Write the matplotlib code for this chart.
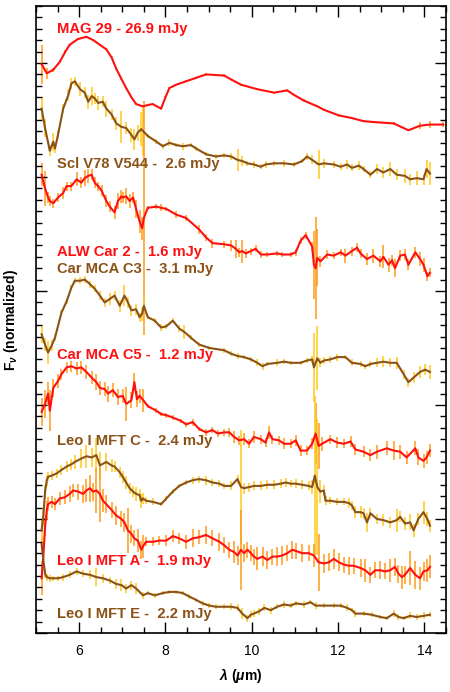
import numpy as np
import matplotlib
matplotlib.use("Agg")
from matplotlib import pyplot as plt
from matplotlib.ticker import MultipleLocator

plt.rcParams['font.family'] = ['Liberation Sans', 'DejaVu Sans']
plt.rcParams['mathtext.fontset'] = 'custom'
plt.rcParams['mathtext.rm'] = 'Liberation Sans:bold'
plt.rcParams['mathtext.it'] = 'Liberation Sans:italic:bold'
plt.rcParams['mathtext.bf'] = 'Liberation Sans:bold'

RED = '#ff1010'
BROWN = '#8a5217'
ORANGE = '#ff9a1a'
GOLD = '#ffc81a'

# columns: wavelength (um), normalized flux + offset, error
mag29 = np.array([
    [5.13, 4.99, 0.17], [5.25, 4.91, 0.05], [5.40, 4.94, 0.02], [5.55, 5.01, 0.01],
    [5.68, 5.10, 0.01], [5.78, 5.16, 0.01], [5.97, 5.21, 0.01], [6.17, 5.23, 0.01],
    [6.33, 5.20, 0.01], [6.48, 5.16, 0.01], [6.63, 5.12, 0.01], [6.75, 5.05, 0.01],
    [6.86, 4.95, 0.01], [6.98, 4.86, 0.01], [7.09, 4.78, 0.01], [7.21, 4.70, 0.01],
    [7.32, 4.64, 0.01], [7.47, 4.62, 0.01], [7.70, 4.64, 0.01], [7.90, 4.60, 0.01],
    [8.00, 4.70, 0.01], [8.09, 4.78, 0.01], [8.25, 4.81, 0.01], [8.48, 4.84, 0.01],
    [8.94, 4.90, 0.01], [9.36, 4.89, 0.01], [9.55, 4.85, 0.01], [9.75, 4.81, 0.01],
    [10.13, 4.77, 0.01], [10.52, 4.74, 0.01], [10.82, 4.76, 0.01], [10.98, 4.72, 0.01],
    [11.21, 4.67, 0.01], [11.52, 4.62, 0.01], [11.67, 4.59, 0.01], [12.02, 4.54, 0.01],
    [12.29, 4.52, 0.01], [12.59, 4.49, 0.01], [12.90, 4.48, 0.01], [13.29, 4.47, 0.01],
    [13.63, 4.41, 0.01], [13.90, 4.45, 0.03], [14.13, 4.46, 0.03], [14.44, 4.46, 0.02],
])

scl_v78 = np.array([
    [5.13, 4.60, 0.10], [5.21, 4.43, 0.08], [5.32, 4.23, 0.05], [5.40, 4.31, 0.08],
    [5.44, 4.25, 0.04], [5.51, 4.37, 0.04], [5.63, 4.60, 0.04], [5.75, 4.72, 0.05],
    [5.82, 4.82, 0.05], [5.90, 4.84, 0.04], [6.02, 4.77, 0.06], [6.13, 4.74, 0.05],
    [6.21, 4.66, 0.06], [6.29, 4.71, 0.08], [6.36, 4.69, 0.05], [6.44, 4.65, 0.06],
    [6.55, 4.66, 0.05], [6.63, 4.60, 0.07], [6.75, 4.55, 0.05], [6.86, 4.47, 0.06],
    [6.98, 4.44, 0.14], [7.09, 4.43, 0.05], [7.21, 4.37, 0.06], [7.28, 4.33, 0.09],
    [7.36, 4.39, 0.07], [7.44, 4.42, 0.15], [7.49, 4.40, 0.22], [7.59, 4.36, 0.02],
    [7.79, 4.31, 0.02], [7.94, 4.27, 0.02], [8.09, 4.30, 0.03], [8.25, 4.28, 0.02],
    [8.40, 4.27, 0.03], [8.59, 4.28, 0.02], [8.71, 4.25, 0.02], [8.94, 4.20, 0.02],
    [9.17, 4.18, 0.02], [9.36, 4.19, 0.02], [9.52, 4.18, 0.03], [9.67, 4.15, 0.10],
    [9.78, 4.14, 0.04], [9.90, 4.12, 0.02], [10.05, 4.11, 0.03], [10.21, 4.09, 0.02],
    [10.32, 4.11, 0.03], [10.52, 4.12, 0.02], [10.75, 4.12, 0.03], [10.98, 4.11, 0.02],
    [11.17, 4.14, 0.02], [11.28, 4.18, 0.03], [11.40, 4.15, 0.04], [11.55, 4.11, 0.13],
    [11.67, 4.12, 0.04], [11.90, 4.11, 0.03], [12.06, 4.09, 0.03], [12.21, 4.11, 0.04],
    [12.32, 4.08, 0.03], [12.48, 4.10, 0.04], [12.59, 4.07, 0.03], [12.75, 4.02, 0.03],
    [12.90, 4.07, 0.04], [13.05, 4.04, 0.05], [13.21, 4.07, 0.06], [13.36, 4.02, 0.05],
    [13.55, 4.01, 0.06], [13.67, 3.98, 0.05], [13.82, 3.99, 0.06], [13.98, 3.98, 0.05],
    [14.05, 4.07, 0.08], [14.13, 4.03, 0.10],
])

alw_car2 = np.array([
    [5.13, 4.02, 0.10], [5.21, 3.90, 0.15], [5.28, 3.82, 0.05], [5.32, 3.79, 0.04],
    [5.40, 3.77, 0.04], [5.51, 3.82, 0.04], [5.63, 3.86, 0.05], [5.71, 3.92, 0.04],
    [5.82, 3.92, 0.04], [5.94, 3.98, 0.06], [6.05, 3.95, 0.05], [6.13, 3.99, 0.07],
    [6.21, 4.01, 0.06], [6.29, 4.02, 0.05], [6.36, 3.95, 0.05], [6.44, 3.92, 0.04],
    [6.52, 3.88, 0.05], [6.63, 3.79, 0.05], [6.71, 3.74, 0.05], [6.82, 3.69, 0.06],
    [6.90, 3.79, 0.07], [6.98, 3.83, 0.06], [7.01, 3.82, 0.05], [7.09, 3.83, 0.07],
    [7.17, 3.79, 0.06], [7.25, 3.82, 0.05], [7.32, 3.72, 0.08], [7.40, 3.61, 0.10],
    [7.46, 3.55, 0.10], [7.50, 3.64, 1.03], [7.59, 3.73, 0.02], [7.79, 3.74, 0.02],
    [7.90, 3.73, 0.03], [8.02, 3.72, 0.02], [8.25, 3.67, 0.03], [8.48, 3.64, 0.03],
    [8.78, 3.54, 0.04], [8.94, 3.47, 0.03], [9.09, 3.42, 0.04], [9.36, 3.41, 0.03],
    [9.52, 3.40, 0.05], [9.63, 3.37, 0.08], [9.71, 3.34, 0.04], [9.78, 3.35, 0.10],
    [9.86, 3.33, 0.04], [9.98, 3.35, 0.03], [10.09, 3.37, 0.03], [10.21, 3.32, 0.03],
    [10.36, 3.32, 0.02], [10.59, 3.33, 0.02], [10.71, 3.32, 0.02], [10.90, 3.32, 0.02],
    [11.02, 3.34, 0.03], [11.13, 3.44, 0.03], [11.25, 3.49, 0.03], [11.40, 3.39, 0.04],
    [11.44, 3.23, 0.30], [11.48, 3.20, 0.45], [11.52, 3.29, 0.25], [11.59, 3.26, 0.05],
    [11.75, 3.32, 0.04], [11.90, 3.31, 0.03], [12.06, 3.34, 0.03], [12.17, 3.31, 0.06],
    [12.32, 3.35, 0.04], [12.44, 3.38, 0.04], [12.52, 3.33, 0.04], [12.67, 3.28, 0.05],
    [12.82, 3.31, 0.06], [12.98, 3.26, 0.05], [13.05, 3.30, 0.10], [13.17, 3.23, 0.06],
    [13.25, 3.27, 0.05], [13.32, 3.20, 0.08], [13.44, 3.31, 0.05], [13.55, 3.32, 0.05],
    [13.63, 3.23, 0.05], [13.79, 3.34, 0.05], [13.90, 3.28, 0.06], [13.98, 3.23, 0.06],
    [14.07, 3.13, 0.04], [14.13, 3.16, 0.04],
])

car_c3 = np.array([
    [5.13, 2.62, 0.08], [5.21, 2.53, 0.06], [5.28, 2.46, 0.10], [5.36, 2.52, 0.05],
    [5.44, 2.59, 0.03], [5.59, 2.81, 0.02], [5.71, 2.91, 0.02], [5.82, 3.03, 0.02],
    [5.90, 3.09, 0.02], [6.02, 3.09, 0.03], [6.13, 3.10, 0.03], [6.25, 3.06, 0.03],
    [6.36, 3.02, 0.03], [6.48, 2.96, 0.04], [6.59, 2.90, 0.04], [6.71, 2.93, 0.05],
    [6.82, 2.96, 0.04], [6.94, 2.87, 0.05], [7.05, 2.96, 0.09], [7.13, 2.90, 0.05],
    [7.21, 2.83, 0.05], [7.32, 2.84, 0.05], [7.40, 2.77, 0.04], [7.46, 2.80, 0.06],
    [7.50, 2.87, 0.06], [7.59, 2.77, 0.02], [7.75, 2.74, 0.02], [7.90, 2.68, 0.03],
    [8.02, 2.69, 0.02], [8.17, 2.74, 0.02], [8.32, 2.67, 0.03], [8.44, 2.64, 0.06],
    [8.59, 2.59, 0.02], [8.78, 2.53, 0.02], [9.02, 2.50, 0.02], [9.36, 2.48, 0.02],
    [9.52, 2.45, 0.02], [9.67, 2.43, 0.03], [9.82, 2.42, 0.02], [9.98, 2.40, 0.02],
    [10.13, 2.37, 0.03], [10.25, 2.34, 0.03], [10.36, 2.36, 0.02], [10.59, 2.37, 0.03],
    [10.75, 2.38, 0.02], [10.90, 2.37, 0.02], [11.13, 2.37, 0.02], [11.28, 2.39, 0.02],
    [11.40, 2.40, 0.03], [11.44, 2.33, 0.30], [11.52, 2.41, 0.28], [11.59, 2.37, 0.04],
    [11.67, 2.39, 0.03], [11.82, 2.40, 0.03], [11.98, 2.42, 0.03], [12.17, 2.42, 0.02],
    [12.32, 2.37, 0.03], [12.52, 2.36, 0.03], [12.63, 2.34, 0.02], [12.75, 2.36, 0.03],
    [12.90, 2.37, 0.04], [13.05, 2.38, 0.05], [13.21, 2.37, 0.04], [13.36, 2.37, 0.05],
    [13.52, 2.27, 0.04], [13.63, 2.20, 0.04], [13.75, 2.24, 0.05], [13.90, 2.29, 0.05],
    [14.02, 2.31, 0.05], [14.13, 2.29, 0.06],
])

car_c5 = np.array([
    [5.13, 1.94, 0.12], [5.21, 2.01, 0.12], [5.28, 2.10, 0.10], [5.32, 1.95, 0.18],
    [5.40, 2.15, 0.08], [5.51, 2.21, 0.06], [5.59, 2.27, 0.05], [5.71, 2.33, 0.05],
    [5.82, 2.34, 0.05], [5.94, 2.32, 0.06], [6.05, 2.33, 0.06], [6.17, 2.29, 0.06],
    [6.29, 2.24, 0.06], [6.40, 2.20, 0.07], [6.48, 2.15, 0.06], [6.59, 2.14, 0.06],
    [6.67, 2.10, 0.07], [6.78, 2.13, 0.06], [6.90, 2.07, 0.07], [7.01, 2.08, 0.06],
    [7.09, 2.01, 0.15], [7.21, 2.04, 0.07], [7.28, 2.20, 0.08], [7.34, 2.05, 0.07],
    [7.40, 2.08, 0.06], [7.49, 2.04, 0.10], [7.59, 1.99, 0.02], [7.79, 1.95, 0.02],
    [7.90, 1.92, 0.02], [8.02, 1.91, 0.02], [8.17, 1.89, 0.02], [8.36, 1.86, 0.02],
    [8.48, 1.83, 0.02], [8.63, 1.85, 0.03], [8.78, 1.79, 0.02], [8.94, 1.76, 0.03],
    [9.09, 1.78, 0.03], [9.21, 1.75, 0.03], [9.36, 1.76, 0.03], [9.48, 1.76, 0.04],
    [9.59, 1.72, 0.05], [9.71, 1.69, 0.04], [9.82, 1.70, 0.05], [9.94, 1.66, 0.04],
    [10.05, 1.72, 0.05], [10.21, 1.70, 0.04], [10.32, 1.67, 0.04], [10.40, 1.76, 0.06],
    [10.48, 1.70, 0.04], [10.63, 1.69, 0.04], [10.75, 1.66, 0.05], [10.90, 1.66, 0.04],
    [11.02, 1.69, 0.05], [11.13, 1.60, 0.05], [11.28, 1.60, 0.04], [11.40, 1.66, 0.05],
    [11.48, 1.75, 0.27], [11.55, 1.64, 0.20], [11.63, 1.66, 0.06], [11.82, 1.70, 0.04],
    [11.98, 1.67, 0.05], [12.13, 1.66, 0.04], [12.29, 1.68, 0.05], [12.40, 1.61, 0.05],
    [12.59, 1.59, 0.05], [12.75, 1.56, 0.05], [12.90, 1.59, 0.06], [13.13, 1.62, 0.06],
    [13.29, 1.60, 0.08], [13.44, 1.59, 0.06], [13.59, 1.54, 0.06], [13.79, 1.62, 0.06],
    [13.86, 1.54, 0.07], [13.98, 1.51, 0.06], [14.05, 1.54, 0.06], [14.13, 1.60, 0.06],
])

leo_c = np.array([
    [5.13, 0.90, 0.10], [5.17, 1.02, 0.08], [5.21, 1.24, 0.06], [5.25, 1.34, 0.05],
    [5.28, 1.37, 0.04], [5.36, 1.38, 0.04], [5.48, 1.40, 0.04], [5.59, 1.43, 0.04],
    [5.71, 1.46, 0.05], [5.82, 1.48, 0.05], [5.90, 1.50, 0.06], [6.05, 1.53, 0.08],
    [6.17, 1.55, 0.10], [6.29, 1.54, 0.08], [6.40, 1.56, 0.15], [6.48, 1.47, 0.12],
    [6.63, 1.50, 0.08], [6.75, 1.47, 0.06], [6.82, 1.46, 0.05], [6.94, 1.41, 0.05],
    [7.01, 1.37, 0.05], [7.09, 1.32, 0.06], [7.17, 1.27, 0.05], [7.25, 1.24, 0.05],
    [7.32, 1.22, 0.06], [7.40, 1.21, 0.05], [7.44, 1.16, 0.06], [7.48, 1.18, 0.05],
    [7.55, 1.16, 0.03], [7.71, 1.15, 0.03], [7.90, 1.13, 0.02], [8.02, 1.18, 0.02],
    [8.17, 1.24, 0.02], [8.32, 1.29, 0.02], [8.48, 1.32, 0.02], [8.63, 1.34, 0.03],
    [8.78, 1.35, 0.03], [8.94, 1.34, 0.04], [9.09, 1.32, 0.03], [9.25, 1.31, 0.03],
    [9.36, 1.29, 0.03], [9.52, 1.29, 0.04], [9.67, 1.35, 0.04], [9.75, 1.28, 0.50],
    [9.82, 1.27, 0.05], [9.94, 1.28, 0.04], [10.05, 1.29, 0.04], [10.21, 1.29, 0.04],
    [10.36, 1.30, 0.04], [10.52, 1.30, 0.04], [10.67, 1.31, 0.04], [10.79, 1.32, 0.04],
    [10.90, 1.31, 0.03], [11.02, 1.31, 0.04], [11.17, 1.30, 0.04], [11.32, 1.29, 0.04],
    [11.40, 1.28, 0.06], [11.46, 1.38, 0.70], [11.52, 1.28, 0.60], [11.59, 1.24, 0.10],
    [11.67, 1.25, 0.05], [11.71, 1.16, 0.04], [11.82, 1.16, 0.03], [11.98, 1.15, 0.03],
    [12.13, 1.15, 0.03], [12.25, 1.14, 0.04], [12.32, 1.12, 0.04], [12.40, 1.06, 0.05],
    [12.52, 1.06, 0.05], [12.59, 1.05, 0.05], [12.67, 0.97, 0.08], [12.75, 1.05, 0.05],
    [12.90, 1.00, 0.04], [13.05, 0.99, 0.05], [13.21, 0.97, 0.05], [13.36, 0.99, 0.10],
    [13.44, 1.02, 0.05], [13.55, 0.96, 0.06], [13.67, 0.97, 0.07], [13.75, 0.90, 0.06],
    [13.86, 1.00, 0.05], [13.98, 1.06, 0.10], [14.07, 1.00, 0.06], [14.13, 0.94, 0.05],
])

leo_a = np.array([
    [5.13, 0.48, 0.15], [5.17, 0.67, 0.10], [5.21, 0.93, 0.08], [5.25, 1.08, 0.08],
    [5.28, 1.13, 0.06], [5.36, 1.15, 0.05], [5.44, 1.13, 0.05], [5.55, 1.18, 0.06],
    [5.67, 1.19, 0.06], [5.78, 1.22, 0.07], [5.86, 1.25, 0.06], [5.98, 1.24, 0.07],
    [6.09, 1.22, 0.08], [6.17, 1.25, 0.10], [6.25, 1.27, 0.12], [6.32, 1.24, 0.08],
    [6.40, 1.25, 0.20], [6.48, 1.22, 0.25], [6.55, 1.16, 0.10], [6.63, 1.13, 0.08],
    [6.75, 1.08, 0.07], [6.86, 1.03, 0.08], [6.98, 1.00, 0.07], [7.05, 0.97, 0.08],
    [7.13, 0.90, 0.20], [7.21, 0.87, 0.08], [7.28, 0.83, 0.07], [7.36, 0.81, 0.10],
    [7.44, 0.73, 0.08], [7.48, 0.76, 0.10], [7.55, 0.80, 0.04], [7.71, 0.80, 0.04],
    [7.86, 0.81, 0.04], [8.02, 0.81, 0.05], [8.17, 0.85, 0.05], [8.32, 0.83, 0.05],
    [8.48, 0.80, 0.06], [8.63, 0.83, 0.08], [8.78, 0.84, 0.06], [8.94, 0.86, 0.08],
    [9.09, 0.83, 0.07], [9.25, 0.80, 0.08], [9.36, 0.77, 0.07], [9.48, 0.73, 0.07],
    [9.59, 0.71, 0.10], [9.67, 0.68, 0.08], [9.75, 0.73, 0.35], [9.82, 0.70, 0.08],
    [9.90, 0.73, 0.07], [9.98, 0.70, 0.07], [10.05, 0.67, 0.07], [10.13, 0.65, 0.10],
    [10.25, 0.67, 0.08], [10.36, 0.64, 0.08], [10.48, 0.67, 0.07], [10.59, 0.67, 0.08],
    [10.71, 0.68, 0.08], [10.82, 0.70, 0.07], [10.94, 0.73, 0.08], [11.02, 0.72, 0.07],
    [11.17, 0.70, 0.08], [11.32, 0.70, 0.07], [11.44, 0.68, 0.10], [11.55, 0.62, 0.25],
    [11.67, 0.61, 0.08], [11.79, 0.62, 0.08], [11.90, 0.65, 0.09], [12.02, 0.62, 0.08],
    [12.13, 0.60, 0.07], [12.25, 0.59, 0.08], [12.36, 0.59, 0.07], [12.52, 0.57, 0.08],
    [12.63, 0.55, 0.10], [12.75, 0.51, 0.07], [12.86, 0.55, 0.07], [12.98, 0.55, 0.08],
    [13.09, 0.54, 0.07], [13.21, 0.55, 0.10], [13.32, 0.58, 0.08], [13.40, 0.52, 0.08],
    [13.48, 0.49, 0.10], [13.55, 0.51, 0.08], [13.67, 0.57, 0.15], [13.79, 0.51, 0.12],
    [13.90, 0.48, 0.10], [13.98, 0.54, 0.08], [14.07, 0.55, 0.10], [14.13, 0.58, 0.10],
])

leo_e = np.array([
    [5.13, 0.78, 0.06], [5.17, 0.64, 0.05], [5.21, 0.52, 0.04], [5.25, 0.49, 0.03],
    [5.32, 0.48, 0.03], [5.40, 0.48, 0.02], [5.51, 0.48, 0.02], [5.63, 0.49, 0.03],
    [5.78, 0.51, 0.03], [5.94, 0.54, 0.03], [6.09, 0.52, 0.03], [6.25, 0.51, 0.04],
    [6.40, 0.49, 0.08], [6.55, 0.48, 0.04], [6.71, 0.46, 0.03], [6.86, 0.43, 0.04],
    [6.98, 0.42, 0.05], [7.09, 0.39, 0.04], [7.21, 0.42, 0.04], [7.32, 0.39, 0.05],
    [7.48, 0.33, 0.03], [7.59, 0.35, 0.02], [7.75, 0.33, 0.02], [7.94, 0.35, 0.02],
    [8.09, 0.36, 0.02], [8.25, 0.36, 0.02], [8.40, 0.35, 0.02], [8.55, 0.32, 0.02],
    [8.71, 0.29, 0.02], [8.86, 0.26, 0.02], [9.02, 0.24, 0.02], [9.17, 0.23, 0.02],
    [9.36, 0.23, 0.02], [9.52, 0.23, 0.03], [9.67, 0.22, 0.03], [9.78, 0.17, 0.05],
    [9.90, 0.13, 0.03], [9.98, 0.16, 0.03], [10.05, 0.17, 0.03], [10.17, 0.19, 0.03],
    [10.29, 0.22, 0.03], [10.44, 0.20, 0.03], [10.59, 0.23, 0.02], [10.75, 0.25, 0.03],
    [10.90, 0.24, 0.02], [11.02, 0.26, 0.02], [11.21, 0.25, 0.03], [11.36, 0.27, 0.02],
    [11.48, 0.24, 0.03], [11.67, 0.24, 0.02], [11.90, 0.24, 0.02], [12.06, 0.24, 0.02],
    [12.21, 0.22, 0.03], [12.32, 0.20, 0.02], [12.40, 0.17, 0.03], [12.59, 0.17, 0.02],
    [12.78, 0.16, 0.02], [12.98, 0.14, 0.02], [13.13, 0.13, 0.02], [13.29, 0.17, 0.03],
    [13.40, 0.14, 0.03], [13.52, 0.13, 0.02], [13.67, 0.15, 0.03], [13.82, 0.14, 0.03],
    [13.98, 0.15, 0.03], [14.13, 0.16, 0.02],
])

spectra = [mag29, scl_v78, alw_car2, car_c3, car_c5, leo_c, leo_a, leo_e]
line_colors = [RED, BROWN, RED, BROWN, RED, BROWN, RED, BROWN]
err_colors = [ORANGE, GOLD, ORANGE, GOLD, ORANGE, GOLD, ORANGE, GOLD]

labels = ['MAG 29 - 26.9 mJy', 'Scl V78 V544 -  2.6 mJy', 'ALW Car 2 -  1.6 mJy',
          'Car MCA C3 -  3.1 mJy', 'Car MCA C5 -  1.2 mJy', 'Leo I MFT C -  2.4 mJy',
          'Leo I MFT A -  1.9 mJy', 'Leo I MFT E -  2.2 mJy']
label_y = [5.30, 4.11, 3.34, 3.19, 2.44, 1.68, 0.63, 0.17]
label_x = 5.48

fig = plt.figure(figsize=(4.5, 6.92), dpi=100)
ax = fig.add_axes([0.08, 0.0853, 0.911, 0.906])

for spec, lc, ec in zip(spectra, line_colors, err_colors):
    ax.errorbar(spec[:, 0], spec[:, 1], yerr=spec[:, 2], fmt='none',
                ecolor=ec, elinewidth=1.1, capsize=0, zorder=1)
for spec, lc in zip(spectra, line_colors):
    ax.plot(spec[:, 0], spec[:, 1], color=lc, lw=1.5, zorder=2)

for txt, y, lc in zip(labels, label_y, line_colors):
    ax.text(label_x, y, txt, color=lc, fontsize=10.6, fontweight='bold',
            va='center', ha='left', zorder=3)

ax.set_xlim(5.0, 14.5)
ax.set_ylim(0, 5.5)
ax.xaxis.set_major_locator(MultipleLocator(2))
ax.xaxis.set_minor_locator(MultipleLocator(0.5))
ax.yaxis.set_major_locator(MultipleLocator(1))
ax.yaxis.set_minor_locator(MultipleLocator(0.1))
ax.tick_params(which='both', direction='in', top=True, right=True, width=1.0)
ax.tick_params(which='major', length=8, labelsize=10, pad=8)
ax.tick_params(which='minor', length=4)
ax.set_yticklabels([])
for sp in ax.spines.values():
    sp.set_linewidth(1.2)

ax.set_xlabel(r'$\lambda$ ($\mu$m)', fontsize=10, fontweight='bold', labelpad=6)
ax.set_ylabel(r'F$_\nu$ (normalized)', fontsize=10, fontweight='bold')
ax.yaxis.set_label_coords(-0.04, 0.5)

fig.savefig('out.png', dpi=100)
